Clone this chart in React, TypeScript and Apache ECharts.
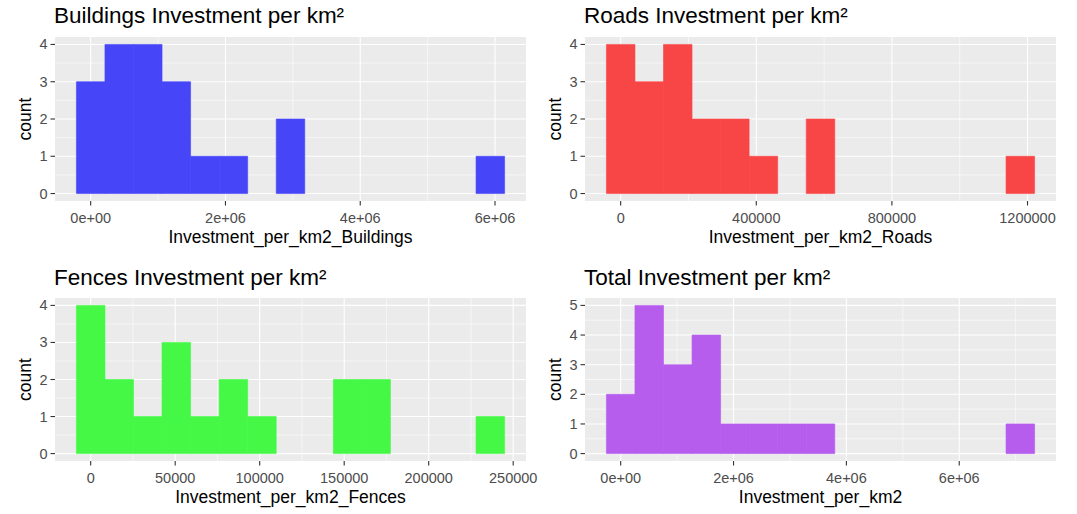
import React, { useEffect, useRef } from "react";
import * as echarts from "echarts";

// ---- data (15 bins each, centred on multiples of the bin width) ----
const buildingsCounts = [3, 4, 4, 3, 1, 1, 0, 2, 0, 0, 0, 0, 0, 0, 1];
const roadsCounts = [4, 3, 4, 2, 2, 1, 0, 2, 0, 0, 0, 0, 0, 0, 1];
const fencesCounts = [4, 2, 1, 3, 1, 2, 1, 0, 0, 2, 2, 0, 0, 0, 1];
const totalCounts = [2, 5, 3, 4, 1, 1, 1, 1, 0, 0, 0, 0, 0, 0, 1];

const buildingsBinWidth = 423600;
const roadsBinWidth = 84200;
const fencesBinWidth = 16890;
const totalBinWidth = 505900;

const buildingsTicks = [0, 2000000, 4000000, 6000000];
const buildingsTickLabels = ["0e+00", "2e+06", "4e+06", "6e+06"];
const roadsTicks = [0, 400000, 800000, 1200000];
const roadsTickLabels = ["0", "400000", "800000", "1200000"];
const fencesTicks = [0, 50000, 100000, 150000, 200000, 250000];
const fencesTickLabels = ["0", "50000", "100000", "150000", "200000", "250000"];
const totalTicks = [0, 2000000, 4000000, 6000000];
const totalTickLabels = ["0e+00", "2e+06", "4e+06", "6e+06"];

const countTicks4 = [0, 1, 2, 3, 4];
const countTicks5 = [0, 1, 2, 3, 4, 5];

const panelTitles = [
  "Buildings Investment per km²",
  "Roads Investment per km²",
  "Fences Investment per km²",
  "Total Investment per km²",
];
const xAxisNames = [
  "Investment_per_km2_Buildings",
  "Investment_per_km2_Roads",
  "Investment_per_km2_Fences",
  "Investment_per_km2",
];
const yAxisName = "count";

// ---- styling / layout ----
const FONT = '"Liberation Sans", Arial, Helvetica, sans-serif';
const fills = ["#4646F8", "#F84646", "#46F846", "#B65DEE"];
const PANEL_BG = "#EBEBEB";
const TICK_LEN = 4.5;
const layout = [
  { left: 55, top: 37, width: 471, height: 164, titleTop: 4 },
  { left: 585, top: 37, width: 471, height: 164, titleTop: 4 },
  { left: 55, top: 298, width: 471, height: 163, titleTop: 266 },
  { left: 585, top: 298, width: 471, height: 163, titleTop: 266 },
];

type Panel = {
  counts: number[];
  binWidth: number;
  xTicks: number[];
  xLabels: string[];
  yTicks: number[];
};

const panels: Panel[] = [
  { counts: buildingsCounts, binWidth: buildingsBinWidth, xTicks: buildingsTicks, xLabels: buildingsTickLabels, yTicks: countTicks4 },
  { counts: roadsCounts, binWidth: roadsBinWidth, xTicks: roadsTicks, xLabels: roadsTickLabels, yTicks: countTicks4 },
  { counts: fencesCounts, binWidth: fencesBinWidth, xTicks: fencesTicks, xLabels: fencesTickLabels, yTicks: countTicks4 },
  { counts: totalCounts, binWidth: totalBinWidth, xTicks: totalTicks, xLabels: totalTickLabels, yTicks: countTicks5 },
];

function minorBreaks(ticks: number[], lo: number, hi: number) {
  const step = ticks[1] - ticks[0];
  const out: number[] = [];
  for (let i = -1; i < ticks.length; i++) {
    const m = (i < 0 ? ticks[0] - step : ticks[i]) + step / 2;
    if (m > lo && m < hi) out.push(m);
  }
  return out;
}

function buildOption() {
  const grid: any[] = [];
  const xAxis: any[] = [];
  const yAxis: any[] = [];
  const series: any[] = [];
  const title: any[] = [];

  panels.forEach((p, i) => {
    const L = layout[i];
    const n = p.counts.length;
    const lo = -0.5 * p.binWidth;
    const hi = (n - 0.5) * p.binWidth;
    const xMin = lo - 0.05 * (hi - lo);
    const xMax = hi + 0.05 * (hi - lo);
    const cMax = Math.max(...p.counts);
    const yMin = -0.05 * cMax;
    const yMax = 1.05 * cMax;

    grid.push({
      left: L.left,
      top: L.top,
      width: L.width,
      height: L.height,
      show: true,
      backgroundColor: PANEL_BG,
      borderWidth: 0,
      containLabel: false,
    });

    title.push({
      text: panelTitles[i],
      left: L.left - 1,
      top: L.titleTop,
      padding: 0,
      textStyle: { fontFamily: FONT, fontSize: 22.5, fontWeight: "normal", color: "#000000" },
    });

    const xLabelOf = (v: number) => {
      const k = p.xTicks.findIndex((t) => Math.abs(t - v) < 1e-6 * Math.max(1, Math.abs(t)));
      return k >= 0 ? p.xLabels[k] : "";
    };

    xAxis.push({
      type: "value",
      gridIndex: i,
      min: xMin,
      max: xMax,
      name: xAxisNames[i],
      nameLocation: "middle",
      nameGap: 27,
      nameTextStyle: { fontFamily: FONT, fontSize: 17.5, color: "#000000" },
      axisLine: { show: false },
      splitLine: { show: false },
      axisTick: { show: false },
      axisLabel: {
        show: true,
        customValues: p.xTicks,
        margin: 9,
        fontFamily: FONT,
        fontSize: 14.5,
        color: "#4D4D4D",
        formatter: (v: number) => xLabelOf(v),
      },
    });

    yAxis.push({
      type: "value",
      gridIndex: i,
      min: yMin,
      max: yMax,
      name: yAxisName,
      nameLocation: "middle",
      nameRotate: 90,
      nameGap: 21.5,
      nameTextStyle: { fontFamily: FONT, fontSize: 17.5, color: "#000000" },
      axisLine: { show: false },
      splitLine: { show: false },
      axisTick: { show: false },
      axisLabel: {
        show: true,
        customValues: p.yTicks,
        margin: 7.5,
        fontFamily: FONT,
        fontSize: 14.5,
        color: "#4D4D4D",
        formatter: (v: number) => String(Math.round(v)),
      },
    });

    // guides: [kind (0 v-grid, 1 h-grid, 2 x-tick, 3 y-tick), value, lineWidth]
    const guideData: number[][] = [];
    minorBreaks(p.xTicks, xMin, xMax).forEach((v) => guideData.push([0, v, 0.55]));
    minorBreaks(p.yTicks, yMin, yMax).forEach((v) => guideData.push([1, v, 0.55]));
    p.xTicks.filter((v) => v > xMin && v < xMax).forEach((v) => guideData.push([0, v, 1.1]));
    p.yTicks.filter((v) => v > yMin && v < yMax).forEach((v) => guideData.push([1, v, 1.1]));
    p.xTicks.filter((v) => v > xMin && v < xMax).forEach((v) => guideData.push([2, v, 1.1]));
    p.yTicks.filter((v) => v > yMin && v < yMax).forEach((v) => guideData.push([3, v, 1.1]));

    series.push({
      type: "custom",
      xAxisIndex: i,
      yAxisIndex: i,
      silent: true,
      clip: false,
      z: 1,
      data: guideData,
      encode: { x: 1, y: 1 },
      renderItem: (params: any, api: any) => {
        const cs = params.coordSys;
        const o = api.value(0);
        const v = api.value(1);
        const w = api.value(2);
        const grey = "#333333";
        if (o === 0 || o === 2) {
          const px = api.coord([v, yMin])[0];
          const bottom = cs.y + cs.height;
          return {
            type: "line",
            shape:
              o === 0
                ? { x1: px, y1: cs.y, x2: px, y2: bottom }
                : { x1: px, y1: bottom, x2: px, y2: bottom + TICK_LEN },
            style: { stroke: o === 0 ? "#FFFFFF" : grey, lineWidth: w },
          };
        }
        const py = api.coord([xMin, v])[1];
        return {
          type: "line",
          shape:
            o === 1
              ? { x1: cs.x, y1: py, x2: cs.x + cs.width, y2: py }
              : { x1: cs.x - TICK_LEN, y1: py, x2: cs.x, y2: py },
          style: { stroke: o === 1 ? "#FFFFFF" : grey, lineWidth: w },
        };
      },
    });

    // histogram bars: [left edge, right edge, count]
    const barData = p.counts
      .map((c, k) => [(k - 0.5) * p.binWidth, (k + 0.5) * p.binWidth, c])
      .filter((d) => d[2] > 0);

    series.push({
      type: "custom",
      xAxisIndex: i,
      yAxisIndex: i,
      silent: true,
      z: 2,
      data: barData,
      encode: { x: [0, 1], y: 2 },
      renderItem: (_params: any, api: any) => {
        const p0 = api.coord([api.value(0), 0]);
        const p1 = api.coord([api.value(1), api.value(2)]);
        return {
          type: "rect",
          shape: { x: p0[0], y: p1[1], width: p1[0] - p0[0], height: p0[1] - p1[1] },
          style: { fill: fills[i], stroke: fills[i], lineWidth: 0.6 },
        };
      },
    });
  });

  return {
    animation: false,
    backgroundColor: "#FFFFFF",
    title,
    grid,
    xAxis,
    yAxis,
    series,
  };
}

export default function App() {
  const ref = useRef<HTMLDivElement>(null);
  useEffect(() => {
    if (!ref.current) return;
    const chart = echarts.init(ref.current, undefined, { renderer: "svg" });
    chart.setOption(buildOption() as any);
    return () => chart.dispose();
  }, []);
  return (
    <div
      ref={ref}
      style={{ position: "absolute", left: 0, top: 0, width: 1077, height: 514, background: "#FFFFFF" }}
    />
  );
}
